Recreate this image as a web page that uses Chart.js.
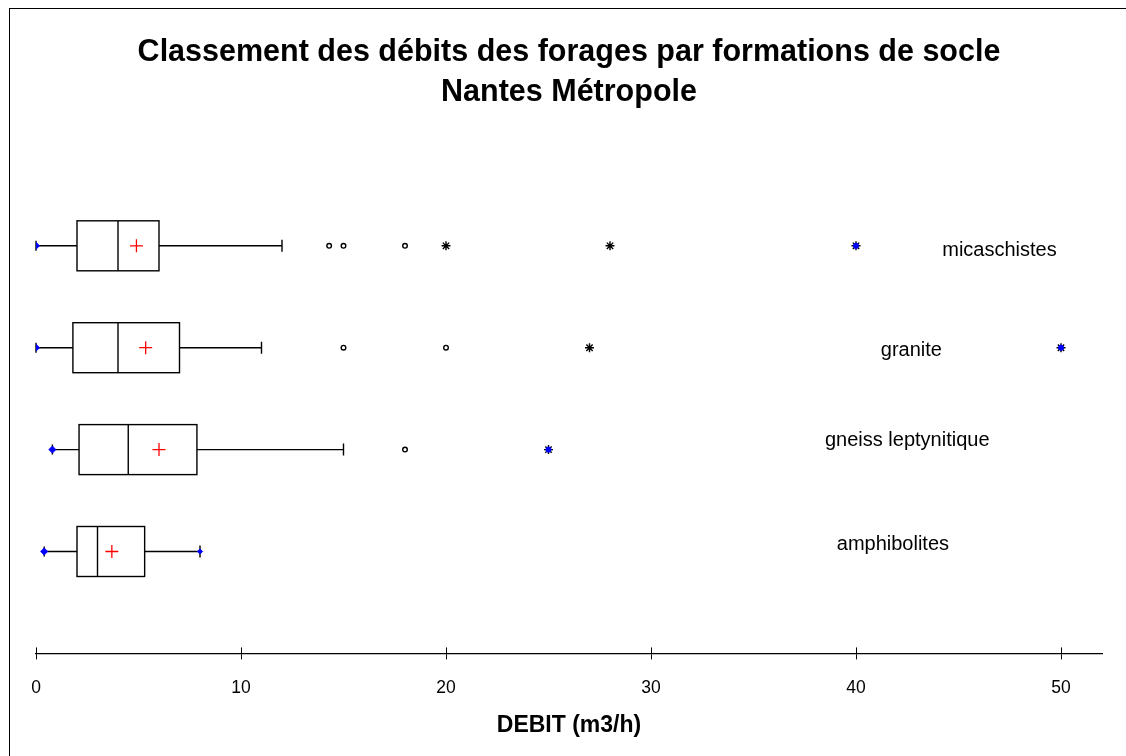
<!DOCTYPE html>
<html>
<head>
<meta charset="utf-8">
<script src="https://cdn.jsdelivr.net/npm/chart.js@4"></script>
<style>
  body { margin: 0; background: #fff; }
  #wrap { position: relative; width: 1126px; height: 756px; }
  #frame { position: absolute; left: 9px; top: 8px; right: 0; bottom: 0; border-left: 1px solid #000; border-top: 1px solid #000; pointer-events: none; }
</style>
</head>
<body>
<div id="wrap">
  <canvas id="chart" width="1126" height="756"></canvas>
  <div id="frame"></div>
</div>
<script>
// one row per formation, top to bottom
const categories = ['micaschistes', 'granite', 'gneiss leptynitique', 'amphibolites'];
const q1 = [2, 1.8, 2.1, 2];
const median = [4, 4, 4.5, 3];
const q3 = [6, 7, 7.85, 5.3];
const whiskerLow = [0, 0, 0.8, 0.4];
const whiskerHigh = [12, 11, 15, 8];
const means = [4.9, 5.35, 6, 3.7];
const outliers = [[14.3, 15, 18], [15, 20], [18], []];
const extremes = [[20, 28, 40], [27, 50], [25], []];
const minima = [0, 0, 0.8, 0.4];
const maxima = [40, 50, 25, 8];
const xTicks = [0, 10, 20, 30, 40, 50];

// row position on the hidden y scale
const rowY = i => categories.length - i;

// where the formation names sit (data units)
const labelPos = [{x: 47.0, dy: -0.05}, {x: 42.7, dy: -0.03}, {x: 42.5, dy: 0.09}, {x: 41.8, dy: 0.07}];

const toPoints = (lists) => lists.flatMap((vals, i) => vals.map(v => ({x: v, y: rowY(i)})));

const boxPlugin = {
    id: 'boxes',
    beforeDatasetsDraw(chart) {
        const ctx = chart.ctx;
        const xs = chart.scales.x, ys = chart.scales.y;
        const half = 25;
        ctx.save();
        ctx.strokeStyle = '#000';
        ctx.lineWidth = 1.4;
        categories.forEach((c, i) => {
            const y = ys.getPixelForValue(rowY(i));
            const x1 = xs.getPixelForValue(q1[i]);
            const xm = xs.getPixelForValue(median[i]);
            const x3 = xs.getPixelForValue(q3[i]);
            const wl = xs.getPixelForValue(whiskerLow[i]);
            const wh = xs.getPixelForValue(whiskerHigh[i]);
            ctx.fillStyle = '#fff';
            ctx.fillRect(x1, y - half, x3 - x1, half * 2);
            ctx.strokeRect(x1, y - half, x3 - x1, half * 2);
            ctx.beginPath();
            ctx.moveTo(xm, y - half); ctx.lineTo(xm, y + half);
            ctx.moveTo(wl, y); ctx.lineTo(x1, y);
            ctx.moveTo(x3, y); ctx.lineTo(wh, y);
            ctx.moveTo(wl, y - 5); ctx.lineTo(wl, y + 5);
            ctx.moveTo(wh, y - 6); ctx.lineTo(wh, y + 6);
            ctx.stroke();
        });
        ctx.restore();
    },
    afterDraw(chart) {
        const ctx = chart.ctx;
        const xs = chart.scales.x, ys = chart.scales.y;
        const axisY = chart.chartArea.bottom;
        ctx.save();
        ctx.strokeStyle = '#000';
        ctx.lineWidth = 1;
        ctx.beginPath();
        xTicks.forEach(t => {
            const x = Math.round(xs.getPixelForValue(t)) + 0.5;
            ctx.moveTo(x, axisY - 6); ctx.lineTo(x, axisY);
        });
        ctx.stroke();
        ctx.fillStyle = '#000';
        ctx.font = '20px "Liberation Sans", Arial, sans-serif';
        ctx.textAlign = 'center';
        ctx.textBaseline = 'middle';
        categories.forEach((c, i) => {
            const p = labelPos[i];
            ctx.fillText(c, xs.getPixelForValue(p.x), ys.getPixelForValue(rowY(i) + p.dy));
        });
        ctx.restore();
    }
};

new Chart(document.getElementById('chart'), {
    type: 'scatter',
    data: {
        // first dataset is drawn on top
        datasets: [
            {
                label: 'mean',
                data: means.map((v, i) => ({x: v, y: rowY(i)})),
                pointStyle: 'cross',
                pointRadius: 6.5,
                borderColor: '#ff0000',
                borderWidth: 1.3
            },
            {
                label: 'max',
                data: maxima.map((v, i) => ({x: v, y: rowY(i)})),
                pointStyle: (ctx) => (maxima[ctx.dataIndex] === whiskerHigh[ctx.dataIndex] ? 'rectRot' : 'circle'),
                pointRadius: 2.6,
                backgroundColor: '#0000ff',
                borderColor: '#0000ff',
                borderWidth: 1
            },
            {
                label: 'min',
                data: minima.map((v, i) => ({x: v, y: rowY(i)})),
                pointStyle: 'rectRot',
                pointRadius: 3.5,
                backgroundColor: '#0000ff',
                borderColor: '#0000ff',
                borderWidth: 1
            },
            {
                label: 'extremes',
                data: toPoints(extremes),
                pointStyle: 'star',
                pointRadius: 4.5,
                borderColor: '#000',
                borderWidth: 1.4
            },
            {
                label: 'outliers',
                data: toPoints(outliers),
                pointStyle: 'circle',
                pointRadius: 2.3,
                backgroundColor: '#fff',
                borderColor: '#000',
                borderWidth: 1.4
            }
        ]
    },
    options: {
        responsive: false,
        animation: false,
        layout: { padding: { top: 33, left: 36, right: 24, bottom: 17 } },
        plugins: {
            legend: { display: false },
            tooltip: { enabled: false },
            title: {
                display: true,
                text: ['Classement des débits des forages par formations de socle', 'Nantes Métropole'],
                color: '#000',
                font: { family: '"Liberation Sans", Arial, sans-serif', size: 30.5, weight: 'bold', lineHeight: 1.31 },
                padding: { top: 0, bottom: 31 }
            }
        },
        scales: {
            x: {
                type: 'linear',
                min: 0,
                max: 52,
                afterBuildTicks: (scale) => { scale.ticks = xTicks.map(v => ({value: v})); },
                grid: { drawOnChartArea: false, color: '#000', tickLength: 6 },
                border: { display: true, color: '#000', width: 1.3 },
                ticks: {
                    color: '#000',
                    padding: 18,
                    maxRotation: 0,
                    font: { family: '"Liberation Sans", Arial, sans-serif', size: 17.5 }
                },
                title: {
                    display: true,
                    text: 'DEBIT (m3/h)',
                    color: '#000',
                    padding: { top: -5, bottom: 0 },
                    font: { family: '"Liberation Sans", Arial, sans-serif', size: 23, weight: 'bold' }
                }
            },
            y: {
                type: 'linear',
                min: 0,
                max: 5,
                display: false
            }
        }
    },
    plugins: [boxPlugin]
});
</script>
</body>
</html>
